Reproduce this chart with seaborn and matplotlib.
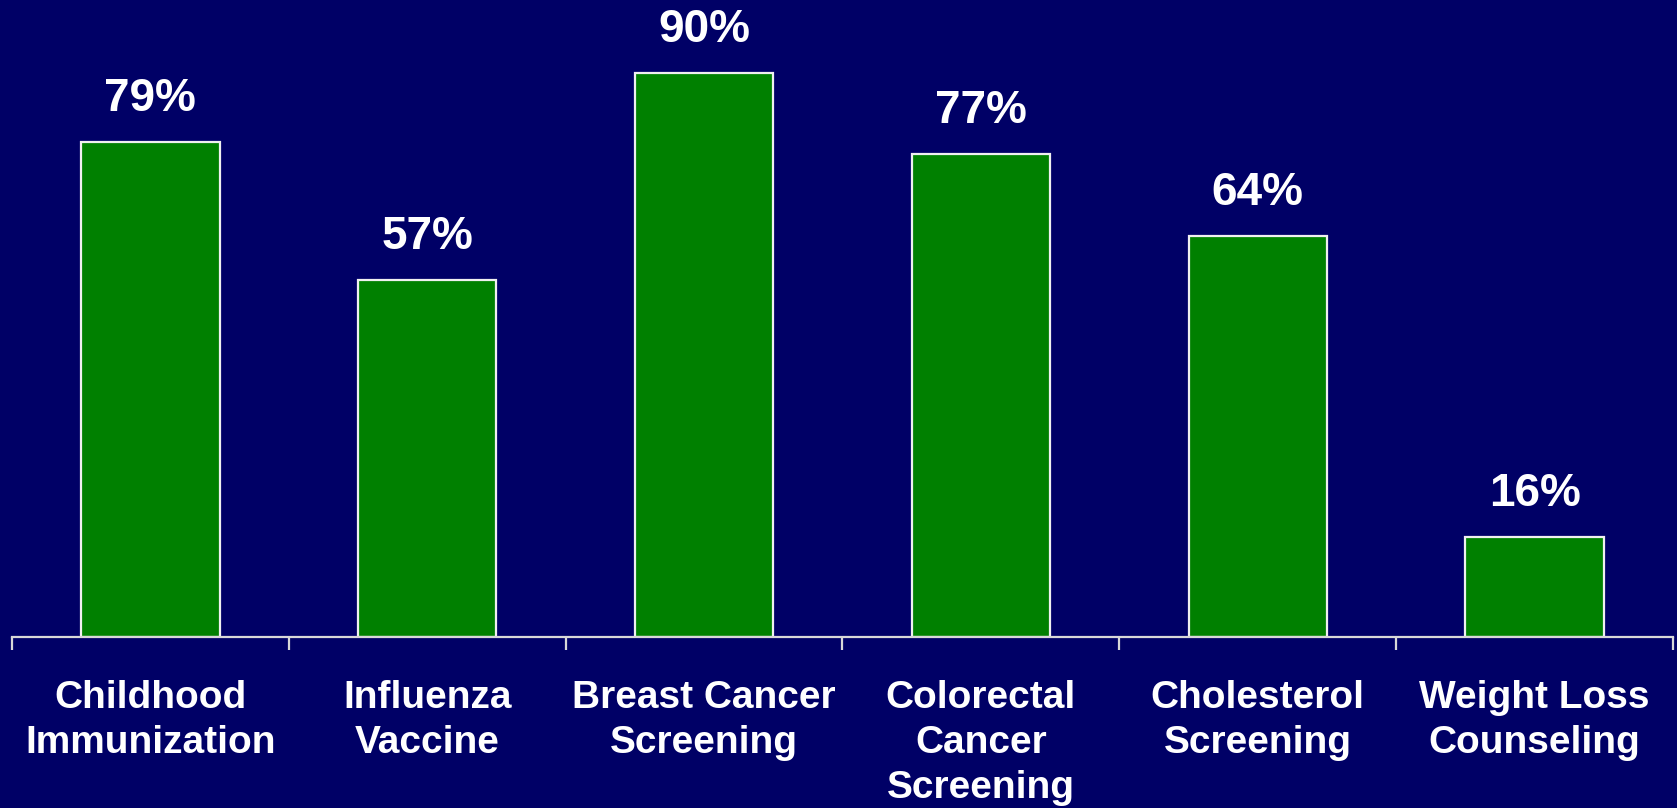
import numpy as np
import pandas as pd
import seaborn as sns
import matplotlib.pyplot as plt

# dados
categorias = ['Childhood\nImmunization', 'Influenza\nVaccine', 'Breast Cancer\nScreening',
              'Colorectal\nCancer\nScreening', 'Cholesterol\nScreening', 'Weight Loss\nCounseling']
valores = [79, 57, 90, 77, 64, 16]
rotulos = ['79%', '57%', '90%', '77%', '64%', '16%']

fundo = '#000066'
verde = '#008000'

sns.set_style('white', {'axes.facecolor': fundo, 'figure.facecolor': fundo})
plt.rcParams['font.family'] = ['Liberation Sans', 'DejaVu Sans']

df = pd.DataFrame({'categoria': categorias, 'valor': valores})

fig = plt.figure(figsize=(16.77, 8.08), dpi=100)
ax = fig.add_axes([12 / 1677, (808 - 637) / 808, (1673 - 12) / 1677, 637 / 808])

sns.barplot(data=df, x='categoria', y='valor', color=verde, width=0.5,
            edgecolor='#f0f0f0', linewidth=1.6, saturation=1, ax=ax)

# rótulos das barras
ax.bar_label(ax.containers[0], labels=rotulos, padding=15, color='white',
             fontsize=33, fontweight='bold')

ax.set_xlim(-0.5, len(categorias) - 0.5)
ax.set_ylim(0, 101.6)

# eixos
for lado in ['top', 'right', 'left']:
    ax.spines[lado].set_visible(False)
ax.spines['bottom'].set_color('#d8d8d8')
ax.spines['bottom'].set_linewidth(1.6)

ax.set_yticks([])
ax.set_xlabel('')
ax.set_ylabel('')
ax.set_xticks(np.arange(len(categorias)))
ax.set_xticklabels(categorias, color='white', fontsize=28, fontweight='bold',
                   linespacing=1.32)
ax.tick_params(axis='x', which='major', length=0, pad=31)
ax.set_xticks(np.arange(len(categorias) + 1) - 0.5, minor=True)
ax.tick_params(axis='x', which='minor', length=9.5, width=1.6, color='#d8d8d8',
               direction='out', bottom=True)

fig.savefig('out.png', dpi=100, facecolor=fundo)
